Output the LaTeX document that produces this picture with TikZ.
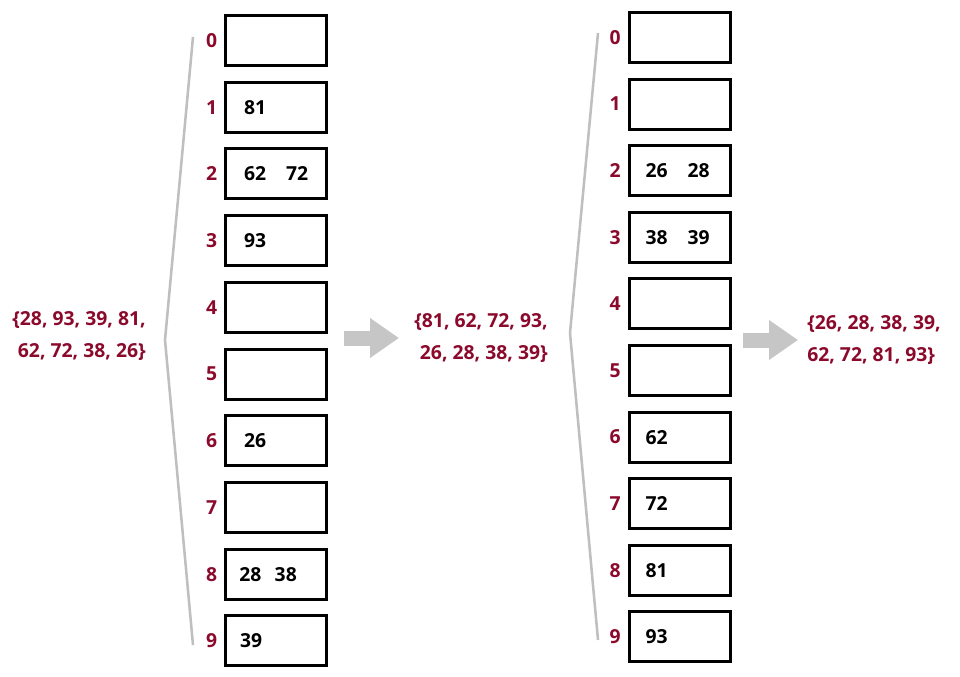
\documentclass[tikz,border=0pt]{standalone}
\usepackage{fontspec}
\setmainfont{Open Sans}
\usepackage{xcolor}
\usepackage{tikz}
\usetikzlibrary{positioning, arrows.meta}
\definecolor{setred}{HTML}{8B0A2C}
\definecolor{bracegray}{HTML}{BFBFBF}
\definecolor{arrowgray}{HTML}{C6C6C6}
\newcommand{\cellgap}[1]{\hspace{#1}}
\newcommand{\cellbody}[1]{\makebox[48pt][l]{#1}}

\tikzset{
    bucket/.style={draw=black, line width=2.25pt, minimum width=75.75pt, minimum height=37.5pt,
                   inner xsep=13.5pt, font=\bfseries\fontsize{14.5}{16}\selectfont},
    index/.style={text=setred, inner sep=0pt, font=\bfseries\fontsize{14.5}{16}\selectfont},
    numset/.style={text=setred, inner sep=0pt, font=\bfseries\fontsize{14.5}{24}\selectfont},
    brace/.style={draw=bracegray, line width=1.9pt},
    pass/.style={draw=arrowgray, line width=11.25pt, -{Triangle[length=21.75pt, width=28.5pt]}}
}

\begin{document}
\begin{tikzpicture}[x=0.75pt, y=-0.75pt]
    \useasboundingbox (0,0) rectangle (960,677);

    \foreach \v [count=\i from 0] in {{}, 81, 62\cellgap{15pt}72, 93, {}, {}, 26, {},
                                      \hspace*{-3.5pt}28\cellgap{10pt}38, \hspace*{-3pt}39}{
      \node[bucket] (a\i) at (276, 40.5+66.7*\i) {\cellbody{\v}};
      \node[index, left=5pt of a\i] (ai\i) {\i};
    }
    \foreach \v [count=\i from 0] in {{}, {}, 26\cellgap{15pt}28, 38\cellgap{15pt}39, {}, {}, 62, 72, 81, 93}{
      \node[bucket] (b\i) at (679.5, 37.5+66.6*\i) {\cellbody{\hspace*{-1.5pt}\v}};
      \node[index, left=5pt of b\i] (bi\i) {\i};
    }

    \draw[brace] (193,37) -- (165,340) -- (193,645);
    \draw[brace] (598,33) -- (570,333) -- (598,640);

    \node[numset, align=right, anchor=east] (s0) at (146,336) {\{28, 93, 39, 81,\\62, 72, 38, 26\}};
    \node[numset, align=right, anchor=east] (s1) at (548,338) {\{81, 62, 72, 93,\\26, 28, 38, 39\}};
    \node[numset, align=left, anchor=west] (s2) at (807,340) {\{26, 28, 38, 39,\\62, 72, 81, 93\}};

    \coordinate (p0) at (344,338);
    \coordinate (q0) at (399,338);
    \coordinate (p1) at (743,340);
    \coordinate (q1) at (798,340);
    \draw[pass] (p0) -- (q0);
    \draw[pass] (p1) -- (q1);
\end{tikzpicture}
\end{document}
